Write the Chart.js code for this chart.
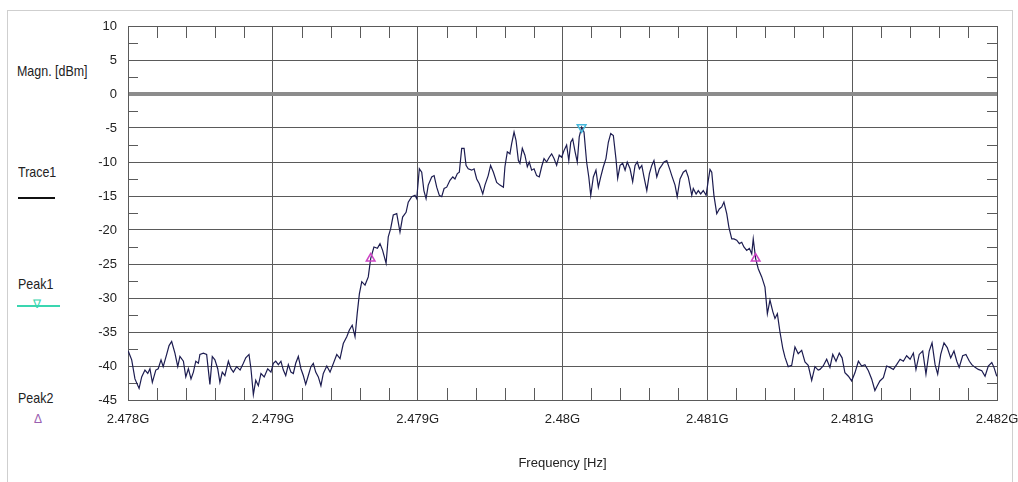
<!DOCTYPE html>
<html>
<head>
<meta charset="utf-8">
<script src="https://cdn.jsdelivr.net/npm/chart.js@4.4.0/dist/chart.umd.min.js"></script>
<style>
html, body { margin: 0; padding: 0; background: #fff; }
body { width: 1018px; height: 482px; position: relative; overflow: hidden;
  font-family: "Liberation Sans", Arial, sans-serif; color: #222; }
#frame { position: absolute; left: 7px; top: 10px; width: 1004px; height: 480px; border: 1px solid #cfcfcf; }
#wrap { position: absolute; left: 0; top: 0; width: 1018px; height: 482px; }
.lbl { position: absolute; font-size: 15px; line-height: 16px; white-space: nowrap;
  transform: scaleX(0.83); transform-origin: 0 0; }
.swatch { position: absolute; height: 2px; }
.mark { position: absolute; font-size: 12px; line-height: 12px; }
</style>
</head>
<body>
<div id="frame"></div>
<div class="lbl" style="left:17px;top:63px">Magn. [dBm]</div>
<div class="lbl" style="left:18px;top:164px">Trace1</div>
<div class="swatch" style="left:18px;top:197px;width:37px;background:#111"></div>
<div class="lbl" style="left:18px;top:276px">Peak1</div>
<div class="swatch" style="left:17px;top:305px;width:43px;background:#3ad6b0"></div>
<div class="mark" style="left:33px;top:298px;color:#3ad6b0">&#8711;</div>
<div class="lbl" style="left:18px;top:390px">Peak2</div>
<div class="mark" style="left:34px;top:413px;color:#9a60b0">&#916;</div>
<div id="wrap"><canvas id="myChart" width="1018" height="482"></canvas></div>
<script>
// sweep start, offsets of each trace point in kHz
var startHz = 2478e6;
var stopHz = 2482e6;

var sweepKHz = [
  1,17,32,51,63,78,91,101,112,128,139,152,162,178,189,201,216,229,239,255,
  266,278,290,301,312,324,331,347,362,377,388,400,413,423,434,446,462,474,485,500,
  516,531,542,557,566,577,588,600,612,627,643,658,669,680,692,704,715,726,738,750,
  761,772,784,796,807,818,830,842,853,864,876,888,899,
  915,930,961,976,991,1007,1019,1032,1045,1055,1065,1076,1091,1106,1117,1132,1148,1160,1172,1188,
  1198,1209,1221,1237,1252,1264,1280,1290,1306,1321,1329,1341,1352,1362,1372,1382,1398,1409,1421,1433,
  1444,1455,1467,1482,1495,1505,1516,1525,1536,1547,1556,1566,1582,1593,1605,1617,1633,1643,1658,1669,
  1682,1697,1712,
  1728,1735,1746,1758,1766,1777,1786,1797,1804,1815,1827,1838,1847,1858,1869,1881,1893,1904,1915,1927,
  1939,1950,1961,1973,1985,1996,2007,2019,2029,2038,2047,2058,2068,2077,2088,2099,2111,2121,2130,2142,
  2154,2165,2176,2188,2200,2211,2222,2234,2246,2254,2265,2277,2288,2298,2311,2323,2334,2344,2354,2365,
  2375,2388,2400,2411,2421,2434,2446,2457,2467,2480,2495,
  2503,2518,2528,2541,2556,2568,2579,2595,2602,2615,2625,2636,2648,2661,2671,2679,2687,2697,2710,2722,
  2733,2743,2756,2766,2779,2789,2802,2814,2825,2835,2848,2860,2871,2878,2889,2901,2917,2932,2943,2955,
  2968,2978,2989,3001,3014,3024,3039,3055,3070,3085,3101,3116,3131,3147,3162,3177,
  3185,3200,3216,3231,3244,3259,3274,3287,3300,3316,3331,3346,3362,3377,3392,3408,3423,3438,3449,3461,
  3477,3492,3507,3523,3538,3554,3569,3584,3600,3615,3627,3642,3658,3673,3688,3701,3715,3727,3741,3756,
  3771,3787,3802,3815,3826,3842,3857,3873,3884,3899,3914,3930,3945,3960,3976,3986,3999
];

var traceDbm = [
  -37.8,-39.1,-41.9,-43.3,-41.6,-40.6,-41.1,-40.4,-42.4,-40.6,-40.4,-39.1,-40.1,-38.3,-37.0,-36.4,-38.1,-40.1,-38.6,-39.3,
  -41.6,-40.4,-41.9,-40.9,-39.3,-39.6,-38.3,-38.1,-38.3,-42.7,-38.6,-39.1,-40.4,-42.4,-40.9,-41.4,-39.3,-40.4,-40.9,-40.1,
  -40.6,-39.6,-38.8,-38.3,-40.4,-44.2,-42.1,-42.9,-41.1,-41.6,-40.4,-40.9,-39.6,-39.3,-39.8,-39.3,-40.6,-41.4,-39.8,-40.9,
  -41.1,-39.6,-38.6,-40.4,-41.4,-42.7,-41.4,-40.1,-39.6,-40.9,-41.6,-42.9,-41.1,
  -40.0,-40.9,-38.3,-38.9,-36.7,-35.7,-34.7,-34.0,-35.7,-32.3,-29.4,-27.6,-28.1,-26.9,-24.2,-22.5,-22.7,-22.0,-23.0,-24.9,
  -21.0,-19.8,-17.8,-17.6,-20.3,-18.1,-17.4,-15.9,-15.1,-14.9,-15.4,-11.0,-11.5,-14.2,-15.4,-13.4,-12.2,-12.0,-13.7,-14.9,
  -15.1,-13.9,-13.7,-12.7,-12.2,-12.5,-11.7,-11.5,-8.0,-8.0,-10.5,-11.0,-11.2,-11.0,-12.5,-13.2,-14.7,-13.4,-12.0,-10.5,
  -11.5,-13.0,-13.4,
  -13.7,-10.7,-8.5,-8.8,-7.3,-5.6,-6.8,-9.8,-10.2,-8.0,-9.0,-10.7,-10.0,-11.2,-11.0,-12.0,-12.2,-10.7,-9.5,-10.0,
  -9.3,-8.8,-9.5,-10.5,-9.0,-9.3,-8.3,-7.5,-9.8,-7.1,-6.6,-8.5,-10.0,-6.3,-4.9,-5.6,-10.0,-12.2,-14.9,-12.2,
  -11.2,-13.7,-12.2,-10.7,-9.5,-7.1,-5.8,-6.1,-9.5,-12.4,-10.5,-10.2,-11.2,-10.0,-11.0,-12.9,-10.5,-10.0,-11.0,-10.5,
  -12.2,-14.2,-11.7,-10.5,-9.8,-12.2,-11.0,-10.5,-10.0,-9.8,-11.2,
  -12.0,-13.4,-15.1,-12.5,-11.5,-11.2,-12.2,-14.9,-13.9,-14.7,-14.2,-14.7,-14.2,-14.9,-12.7,-11.1,-11.5,-14.9,-17.6,-16.9,
  -16.6,-15.9,-17.6,-19.6,-21.3,-21.3,-21.5,-22.0,-21.8,-22.5,-23.0,-22.7,-23.5,-21.3,-24.2,-25.7,-26.9,-28.4,-32.3,-30.3,
  -32.0,-33.0,-32.3,-35.0,-37.4,-38.7,-40.1,-39.9,-37.2,-38.2,-37.7,-39.4,-39.9,-42.1,-40.1,-40.6,
  -40.5,-40.0,-39.0,-40.2,-38.3,-39.3,-38.1,-38.8,-41.0,-41.5,-42.2,-41.0,-39.3,-40.0,-39.8,-40.7,-41.9,-43.6,-42.9,-42.2,
  -41.7,-40.0,-40.2,-40.5,-39.8,-39.0,-39.3,-38.5,-39.0,-38.1,-40.5,-38.3,-37.8,-41.2,-37.8,-36.6,-39.8,-41.2,-38.3,-36.6,
  -37.3,-38.8,-37.8,-39.3,-40.2,-38.5,-38.3,-39.3,-39.8,-40.2,-40.5,-40.7,-41.5,-40.0,-39.5,-40.2,-41.5
];

var peak1KHz = [2088];
var peak1Dbm = [-4.9];
var peak2KHz = [1117, 2889];
var peak2Dbm = [-24.2, -24.2];

var xTickLabels = ['2.478G', '2.479G', '2.479G', '2.48G', '2.481G', '2.481G', '2.482G'];

function points(khz, dbm) {
  return khz.map(function(k, i) { return {x: startHz + k * 1000, y: dbm[i]}; });
}

// small ticks between the major grid lines, on all four edges
var minorTicks = {
  id: 'minorTicks',
  beforeDatasetsDraw: function(chart) {
    var ctx = chart.ctx, a = chart.chartArea, x = chart.scales.x, y = chart.scales.y;
    ctx.save();
    ctx.strokeStyle = '#5a5a5a';
    ctx.lineWidth = 1;
    ctx.beginPath();
    var xt = x.ticks;
    for (var i = 0; i < xt.length - 1; i++) {
      for (var j = 1; j < 5; j++) {
        var px = Math.round(x.getPixelForValue(xt[i].value + (xt[i + 1].value - xt[i].value) * j / 5)) + 0.5;
        ctx.moveTo(px, a.top); ctx.lineTo(px, a.top + 12);
        ctx.moveTo(px, a.bottom); ctx.lineTo(px, a.bottom - 12);
      }
    }
    var yt = y.ticks;
    for (var k = 0; k < yt.length - 1; k++) {
      var py = Math.round(y.getPixelForValue((yt[k].value + yt[k + 1].value) / 2)) + 0.5;
      ctx.moveTo(a.left, py); ctx.lineTo(a.left + 10, py);
      ctx.moveTo(a.right, py); ctx.lineTo(a.right - 10, py);
    }
    ctx.stroke();
    ctx.restore();
  }
};

Chart.defaults.font.family = "'Liberation Sans', Arial, sans-serif";
Chart.defaults.color = '#222';

var ctx = document.getElementById('myChart').getContext('2d');
var myChart = new Chart(ctx, {
  type: 'scatter',
  data: {
    datasets: [{
      label: 'Trace1',
      data: points(sweepKHz, traceDbm),
      showLine: true,
      borderColor: '#1c1c50',
      borderWidth: 1.2,
      pointRadius: 0,
      tension: 0,
      order: 3
    }, {
      label: 'Peak1',
      data: points(peak1KHz, peak1Dbm),
      pointStyle: 'triangle',
      rotation: 180,
      pointRadius: 5,
      borderColor: '#45b8dc',
      backgroundColor: 'rgba(0,0,0,0)',
      borderWidth: 1.5,
      order: 1
    }, {
      label: 'Peak2',
      data: points(peak2KHz, peak2Dbm),
      pointStyle: 'triangle',
      pointRadius: 5,
      borderColor: '#cc44c4',
      backgroundColor: 'rgba(0,0,0,0)',
      borderWidth: 1.5,
      order: 2
    }]
  },
  options: {
    responsive: false,
    animation: false,
    events: [],
    layout: {
      padding: { left: 88, right: 21, top: 26, bottom: 0 }
    },
    plugins: {
      legend: { display: false },
      tooltip: { enabled: false }
    },
    scales: {
      x: {
        type: 'linear',
        min: startHz,
        max: stopHz,
        afterFit: function(s) { s.height = 82; s.paddingLeft = 0; s.paddingRight = 0; },
        afterBuildTicks: function(s) {
          s.ticks = xTickLabels.map(function(t, i) {
            return { value: startHz + (stopHz - startHz) * i / (xTickLabels.length - 1) };
          });
        },
        ticks: {
          padding: 12,
          maxRotation: 0,
          autoSkip: false,
          font: { size: 13 },
          callback: function(v, i) { return xTickLabels[i]; }
        },
        grid: { color: '#5a5a5a', lineWidth: 1, drawTicks: false },
        border: { color: '#5a5a5a' },
        title: {
          display: true,
          text: 'Frequency [Hz]',
          font: { size: 13 },
          padding: { top: 0, bottom: 11 }
        }
      },
      y: {
        min: -45,
        max: 10,
        afterFit: function(s) { s.width = 40; },
        ticks: {
          stepSize: 5,
          padding: 11,
          font: { size: 13 }
        },
        grid: {
          drawTicks: false,
          color: function(c) { return c.tick && c.tick.value === 0 ? '#8c8c8c' : '#5a5a5a'; },
          lineWidth: function(c) { return c.tick && c.tick.value === 0 ? 4 : 1; }
        },
        border: { color: '#5a5a5a' }
      }
    }
  },
  plugins: [minorTicks]
});
</script>
</body>
</html>
